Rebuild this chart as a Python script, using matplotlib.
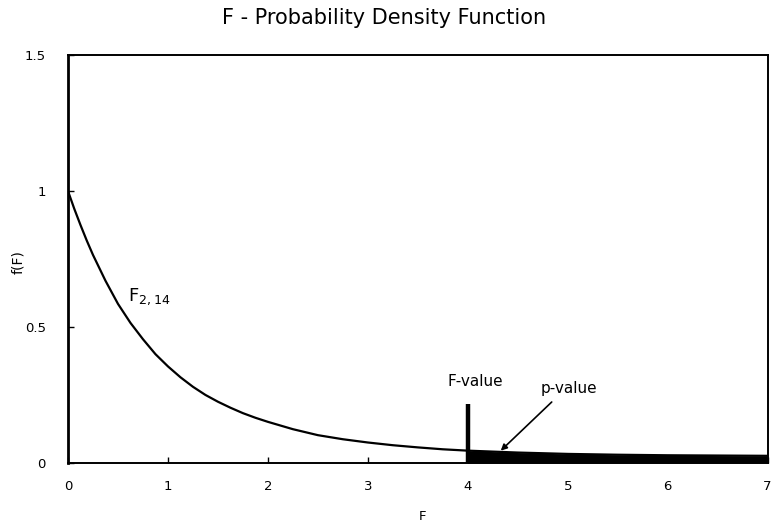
import numpy as np
import matplotlib
matplotlib.use("Agg")
import matplotlib.pyplot as plt

# ── data ─────────────────────────────────────────────────────────────────────
f_vals = [0, 0.0625, 0.125, 0.1875, 0.25, 0.375, 0.5, 0.625, 0.75, 0.875,
          1, 1.125, 1.25, 1.375, 1.5, 1.625, 1.75, 1.875, 2, 2.25, 2.5,
          2.75, 3, 3.25, 3.5, 3.75, 4, 4.5, 5, 5.5, 6, 6.5, 7]
density = [1.0, 0.935, 0.875, 0.818, 0.765, 0.67, 0.585, 0.515, 0.455, 0.40,
           0.355, 0.315, 0.28, 0.25, 0.225, 0.203, 0.183, 0.166, 0.151,
           0.124, 0.102, 0.087, 0.075, 0.065, 0.057, 0.050, 0.045, 0.038,
           0.033, 0.030, 0.028, 0.027, 0.026]

f_value = 4.0
f_value_bar = 0.215

x_ticks = [0, 1, 2, 3, 4, 5, 6, 7]
y_ticks = [0, 0.5, 1, 1.5]
y_tick_labels = ["0", "0.5", "1", "1.5"]

# ── figure ───────────────────────────────────────────────────────────────────
fig = plt.figure(figsize=(7.73, 5.26), dpi=100)
ax = fig.add_axes([0.088, 0.12, 0.905, 0.775])

x = np.array(f_vals)
y = np.array(density)
ax.plot(x, y, color="black", lw=1.6, solid_joinstyle="round")

# p-value tail
tail = x >= f_value
ax.fill_between(x[tail], 0, y[tail], color="black", lw=0)

# F-value marker
ax.plot([f_value, f_value], [0, f_value_bar], color="black", lw=3.2,
        solid_capstyle="butt")

ax.text(4.08, 0.298, "F-value", ha="center", va="center", fontsize=11)
ax.annotate("", xy=(4.33, 0.045), xytext=(4.84, 0.224),
            arrowprops=dict(arrowstyle="-|>", color="black", lw=1.2,
                            mutation_scale=9, shrinkA=0, shrinkB=0))
ax.text(5.01, 0.275, "p-value", ha="center", va="center", fontsize=11)

ax.text(0.6, 0.61, r"$\mathregular{F_{2,14}}$", ha="left", va="center",
        fontsize=13)

ax.set_xlim(0, 7)
ax.set_ylim(0, 1.5)
ax.set_xticks(x_ticks)
ax.set_yticks(y_ticks)
ax.set_yticklabels(y_tick_labels)
ax.tick_params(direction="in", length=4, width=1, labelsize=9.5, color="black")
ax.tick_params(axis="x", pad=12)
ax.tick_params(axis="y", pad=16)
for side in ["top", "right", "bottom"]:
    ax.spines[side].set_linewidth(1.4)
ax.spines["left"].set_linewidth(2)

fig.text(423 / 773, 1 - 517 / 526, "F", ha="center", va="center", fontsize=9.5)
fig.text(18 / 773, 1 - 262 / 526, "f(F)", ha="center", va="center",
         rotation=90, fontsize=10)

fig.text(384 / 773, 1 - 18 / 526, "F - Probability Density Function",
         ha="center", va="center", fontsize=15)

fig.savefig("out.png", dpi=100)
